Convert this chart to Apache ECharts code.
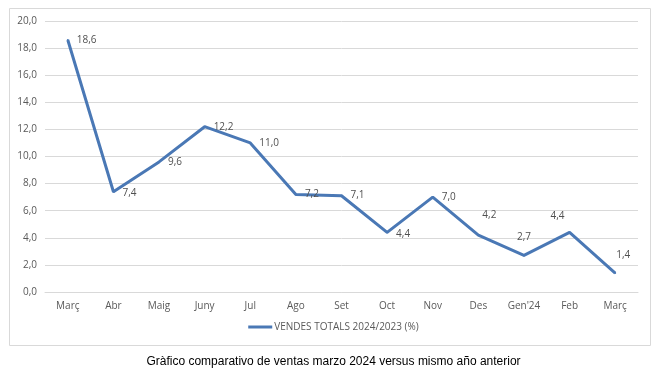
<!DOCTYPE html>
<html>
<head>
<meta charset="utf-8">
<script src="https://cdn.jsdelivr.net/npm/echarts@6/dist/echarts.min.js"></script>
<style>
  html, body { margin: 0; padding: 0; background: #fff; }
  #chart { width: 667px; height: 377px; }
</style>
</head>
<body>
<div id="chart"></div>
<script>
// dades del gràfic
const months = ['Març', 'Abr', 'Maig', 'Juny', 'Jul', 'Ago', 'Set', 'Oct', 'Nov', 'Des', "Gen'24", 'Feb', 'Març'];
const salesPct = [18.6, 7.4, 9.6, 12.2, 11.0, 7.2, 7.1, 4.4, 7.0, 4.2, 2.7, 4.4, 1.4];
const seriesName = 'VENDES TOTALS 2024/2023 (%)';
const caption = 'Gràfico comparativo de ventas marzo 2024 versus mismo año anterior';

const fmt = (v) => v.toFixed(1).replace('.', ',');

// on va l'etiqueta de cada punt (com a l'Excel)
const labelPos = [
  { position: 'right', offset: [0, 0] },
  { position: 'right', offset: [0, 1] },
  { position: 'right', offset: [0, 0] },
  { position: 'right', offset: [0, 0] },
  { position: 'right', offset: [0, 0] },
  { position: 'right', offset: [0, 0] },
  { position: 'right', offset: [0, -1] },
  { position: 'right', offset: [0, 2] },
  { position: 'right', offset: [0, 0] },
  { position: 'top', offset: [11, -6] },
  { position: 'top', offset: [0, -4] },
  { position: 'top', offset: [-12, -2] },
  { position: 'top', offset: [8, -4] }
];

const chart = echarts.init(document.getElementById('chart'));

const option = {
  animation: false,
  textStyle: { fontFamily: 'Open Sans, Liberation Sans, sans-serif' },
  graphic: [{
    type: 'rect',
    shape: { x: 9.5, y: 8.5, width: 641, height: 337 },
    style: { fill: 'none', stroke: '#d9d9d9', lineWidth: 1 },
    silent: true
  }],
  title: {
    text: caption,
    left: 'center',
    top: 351,
    textStyle: { fontFamily: 'Liberation Sans, Arial, sans-serif', fontSize: 12, fontWeight: 'normal', color: '#000' }
  },
  grid: { left: 45, right: 29, top: 21, bottom: 85 },
  legend: {
    data: [seriesName],
    bottom: 40,
    left: 'center',
    itemWidth: 24,
    itemHeight: 3,
    itemGap: 4,
    icon: 'rect',
    itemStyle: { color: '#4a78b5', opacity: 1 },
    textStyle: { fontSize: 10, color: '#595959', padding: [0, 0, 0, -3] }
  },
  xAxis: {
    type: 'category',
    data: months,
    boundaryGap: true,
    axisLine: { lineStyle: { color: '#d9d9d9', width: 1 } },
    axisTick: { show: false },
    axisLabel: { color: '#595959', fontSize: 10, margin: 9 }
  },
  yAxis: {
    type: 'value',
    min: 0,
    max: 20,
    interval: 2,
    axisLine: { show: false },
    axisTick: { show: false },
    splitLine: { lineStyle: { color: '#d9d9d9', width: 1 } },
    axisLabel: { color: '#595959', fontSize: 10, margin: 8, formatter: fmt }
  },
  series: [{
    name: seriesName,
    type: 'line',
    data: salesPct.map((v, i) => ({ value: v, label: labelPos[i] })),
    symbol: 'circle',
    symbolSize: 2,
    showAllSymbol: true,
    itemStyle: { color: '#4a78b5' },
    lineStyle: { width: 3, color: '#4a78b5' },
    label: {
      show: true,
      color: '#505050',
      fontSize: 10,
      distance: 8,
      formatter: (p) => fmt(p.value)
    }
  }]
};

chart.setOption(option);
</script>
</body>
</html>
